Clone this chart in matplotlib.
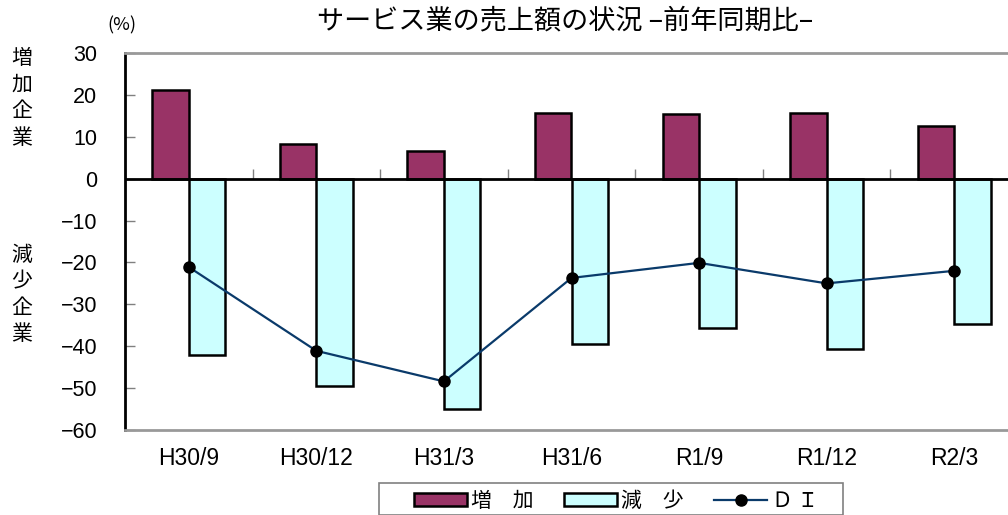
import matplotlib
matplotlib.use("Agg")
import matplotlib.pyplot as plt
import numpy as np
from matplotlib.lines import Line2D
from matplotlib.patches import Patch, Rectangle

plt.rcParams['font.family'] = ['Noto Sans CJK JP', 'DejaVu Sans']

# Data
categories = ["H30/9", "H30/12", "H31/3", "H31/6", "R1/9", "R1/12", "R2/3"]
increase = [21.1, 8.3, 6.7, 15.7, 15.5, 15.7, 12.6]
decrease = [-42.2, -49.4, -55.1, -39.4, -35.6, -40.7, -34.6]
di = [-21.1, -41.1, -48.4, -23.7, -20.1, -25.0, -22.0]
yticks = [30, 20, 10, 0, -10, -20, -30, -40, -50, -60]

title = "サービス業の売上額の状況 –前年同期比–"
label_up = "増加企業"
label_down = "減少企業"
legend_labels = ["増　加", "減　少", "Ｄ Ｉ"]

inc_color = "#993366"
dec_color = "#CCFFFF"
di_color = "#0a3a6a"

W, H = 1008, 515
fig = plt.figure(figsize=(W / 100, H / 100), dpi=100)
ax = fig.add_axes([125 / W, 1 - 430 / H, 893 / W, 377 / H])

x = np.arange(len(categories))
w = 0.286
ax.bar(x - w, increase, width=w, align='edge', color=inc_color,
       edgecolor='black', linewidth=1.8, zorder=3)
ax.bar(x, decrease, width=w, align='edge', color=dec_color,
       edgecolor='black', linewidth=1.8, zorder=3)
ax.plot(x, di, color=di_color, linewidth=1.6, marker='o', markersize=8,
        markerfacecolor='black', markeredgecolor='black', zorder=5)

ax.set_xlim(-0.5, len(categories) - 0.5)
ax.set_ylim(-60, 30)
ax.set_yticks(yticks)
ax.set_yticklabels([f"{v}".replace("-", "\u2212") for v in yticks],
                   fontsize=15.5, family='Liberation Sans')
ax.tick_params(axis='y', direction='in', length=7, width=1, color='#808080', pad=20)

ax.set_xticks(x)
ax.set_xticklabels(categories, fontsize=16.5, family='Liberation Sans')
ax.tick_params(axis='x', length=0, pad=12)

for side in ['top', 'bottom', 'right']:
    ax.spines[side].set_color('#999999')
    ax.spines[side].set_linewidth(2)
ax.spines['left'].set_color('black')
ax.spines['left'].set_linewidth(2)

# Category axis crossing at zero, with upward ticks between categories
ax.axhline(0, color='black', linewidth=2, zorder=4)
zero_frac = (0 - (-60)) / 90
sec = ax.secondary_xaxis(zero_frac)
sec.set_xticks(np.arange(len(categories) + 1) - 0.5)
sec.set_xticklabels([])
sec.tick_params(direction='out', length=7, width=1, color='#808080')
for s in sec.spines.values():
    s.set_visible(False)

fig.text(565 / W, 1 - 21 / H, title, fontsize=19.5, ha='center', va='center')
fig.text(122 / W, 1 - 25 / H, "(%)", fontsize=13, ha='center', va='center')

for i, ch in enumerate(label_up):
    fig.text(22 / W, 1 - (58 + 26.5 * i) / H, ch, fontsize=15,
             ha='center', va='center')
for i, ch in enumerate(label_down):
    fig.text(22 / W, 1 - (255 + 26.5 * i) / H, ch, fontsize=15,
             ha='center', va='center')

# Legend box
fig.patches.append(Rectangle((379 / W, 0), 464 / W, 1 - 483 / H,
                             transform=fig.transFigure, facecolor='white',
                             edgecolor='#808080', linewidth=1.2, zorder=1))

handles = [
    Patch(facecolor=inc_color, edgecolor='black', linewidth=1.8),
    Patch(facecolor=dec_color, edgecolor='black', linewidth=1.8),
    Line2D([], [], color=di_color, linewidth=1.6, marker='o', markersize=8,
           markerfacecolor='black', markeredgecolor='black'),
]
leg = fig.legend(handles, legend_labels, loc='upper left',
                 bbox_to_anchor=(414 / W, 1 - 490 / H), ncol=3,
                 fontsize=15, frameon=False,
                 handlelength=2.55, handleheight=0.55, handletextpad=0.2,
                 columnspacing=1.45, borderpad=0, borderaxespad=0)

fig.savefig("out.png", dpi=100)
